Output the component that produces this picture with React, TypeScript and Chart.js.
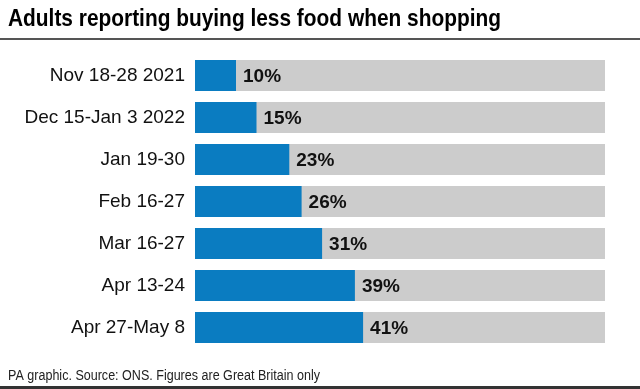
import React, { useEffect, useRef } from "react";
import { Chart, registerables } from "chart.js";

Chart.register(...registerables);

const title = "Adults reporting buying less food when shopping";
const footer = "PA graphic. Source: ONS. Figures are Great Britain only";
const categories = [
  "Nov 18-28 2021",
  "Dec 15-Jan 3 2022",
  "Jan 19-30",
  "Feb 16-27",
  "Mar 16-27",
  "Apr 13-24",
  "Apr 27-May 8",
];
const values = [10, 15, 23, 26, 31, 39, 41];
const totals = [100, 100, 100, 100, 100, 100, 100];

const FONT = "'Liberation Sans', Arial, sans-serif";

function fitText(ctx: any, text: string, x: number, y: number, width: number) {
  const w = ctx.measureText(text).width;
  const s = Math.min(1, width / w);
  ctx.save();
  ctx.translate(x, y);
  ctx.scale(s, 1);
  ctx.fillText(text, 0, 0);
  ctx.restore();
}

export default function App() {
  const ref = useRef<HTMLCanvasElement | null>(null);

  useEffect(() => {
    if (!ref.current) return;
    const decor = {
      id: "decor",
      afterDraw(chart: any) {
        const ctx = chart.ctx;
        ctx.save();
        ctx.fillStyle = "#000";
        ctx.font = `bold 24px ${FONT}`;
        ctx.textBaseline = "alphabetic";
        ctx.textAlign = "left";
        fitText(ctx, title, 8, 26, 493);
        ctx.fillStyle = "#555";
        ctx.fillRect(0, 38, 640, 2);
        ctx.fillStyle = "#222";
        ctx.font = `14px ${FONT}`;
        ctx.textBaseline = "middle";
        fitText(ctx, footer, 8, 376, 312);
        ctx.fillStyle = "#333";
        ctx.fillRect(0, 386, 640, 3);
        // value labels
        const meta = chart.getDatasetMeta(0);
        ctx.fillStyle = "#111";
        ctx.font = `bold 19px ${FONT}`;
        ctx.textBaseline = "middle";
        meta.data.forEach((bar: any, i: number) => {
          fitText(ctx, values[i] + "%", bar.x + 7, bar.y + 1, 40);
        });
        ctx.restore();
      },
    };
    const chart = new Chart(ref.current, {
      type: "bar",
      data: {
        labels: categories,
        datasets: [
          {
            data: values,
            backgroundColor: "#0a7cc1",
            grouped: false,
            order: 0,
            barPercentage: 0.74,
            categoryPercentage: 1,
          } as any,
          {
            data: totals,
            backgroundColor: "#cccccc",
            grouped: false,
            order: 1,
            barPercentage: 0.74,
            categoryPercentage: 1,
          } as any,
        ],
      },
      options: {
        indexAxis: "y",
        animation: false,
        responsive: false,
        maintainAspectRatio: false,
        layout: { padding: { left: 0, right: 35, top: 54.5, bottom: 40.5 } },
        plugins: {
          legend: { display: false },
          tooltip: { enabled: false },
          title: { display: false },
        },
        scales: {
          x: { display: false, min: 0, max: 100 },
          y: {
            grid: { display: false, drawTicks: false },
            border: { display: false },
            ticks: {
              color: "#111",
              padding: 10,
              font: { family: FONT, size: 19 },
            },
            afterFit(scale: any) {
              scale.width = 195;
            },
          },
        },
      },
      plugins: [decor],
    });
    return () => chart.destroy();
  }, []);

  return (
    <div style={{ position: "fixed", left: 0, top: 0, width: 640, height: 389, background: "#fff" }}>
      <canvas ref={ref} width={640} height={389} style={{ width: 640, height: 389 }} />
    </div>
  );
}
